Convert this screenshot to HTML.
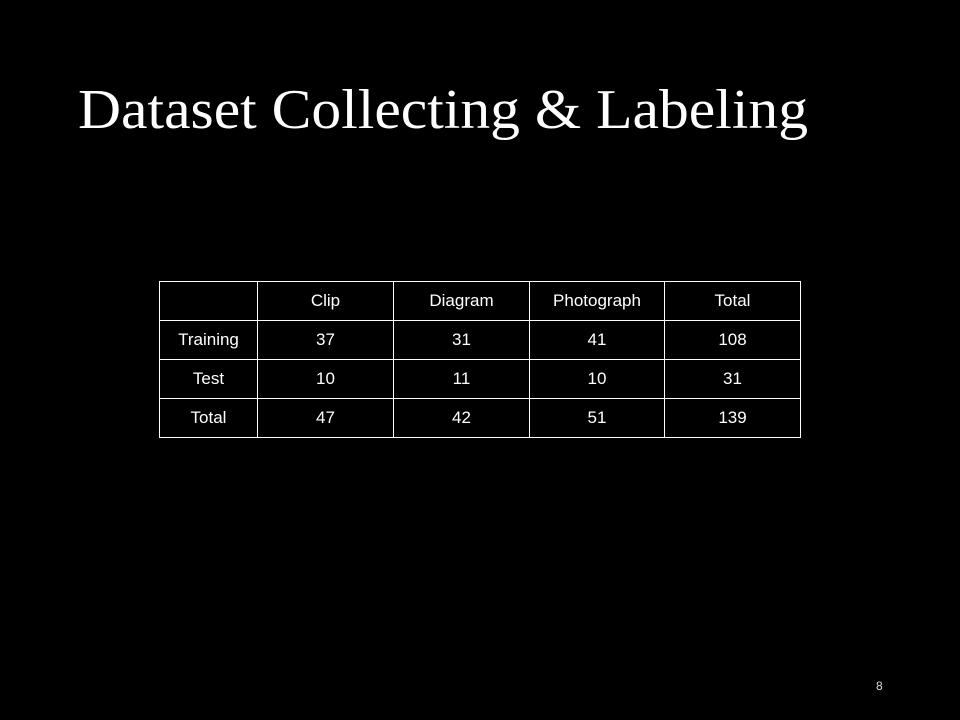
<!DOCTYPE html>
<html><head><meta charset="utf-8"><style>
body{margin:0;width:960px;height:720px;background:#000;overflow:hidden;position:relative;font-family:"Liberation Sans",sans-serif;color:#fff}
#title{position:absolute;left:0;top:0}
table{position:absolute;left:159px;top:281px;border-collapse:collapse}
td{border:1px solid #fff;height:38px;padding:0;text-align:center;font-size:17px;color:#fff}
#pg{position:absolute;left:876px;top:679px;font-size:12px;color:#ddd}
</style></head><body>
<svg id="title" width="960" height="160"><text x="78" y="128" font-family="Liberation Serif, serif" font-size="56" fill="#fff" textLength="730" lengthAdjust="spacingAndGlyphs">Dataset Collecting &amp; Labeling</text></svg>
<table>
<tr><td style="width:97px"></td><td style="width:135px">Clip</td><td style="width:135px">Diagram</td><td style="width:134px">Photograph</td><td style="width:135px">Total</td></tr>
<tr><td>Training</td><td>37</td><td>31</td><td>41</td><td>108</td></tr>
<tr><td>Test</td><td>10</td><td>11</td><td>10</td><td>31</td></tr>
<tr><td>Total</td><td>47</td><td>42</td><td>51</td><td>139</td></tr>
</table>
<div id="pg">8</div>
</body></html>
